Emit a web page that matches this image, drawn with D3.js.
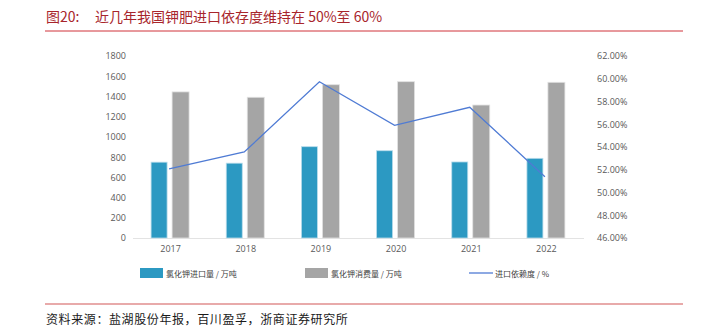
<!DOCTYPE html>
<html><head><meta charset="utf-8">
<script src="https://cdn.jsdelivr.net/npm/d3@7"></script>
<style>body{margin:0;background:#fff}svg{display:block}</style>
</head><body>
<script>
const years = ["2017","2018","2019","2020","2021","2022"];
const importVol = [750, 740, 903, 863, 752, 788];
const consumption = [1445, 1392, 1516, 1546, 1315, 1540];
const dependence = [52.07, 53.56, 59.74, 55.9, 57.49, 51.39];
const leftTicks = [0,200,400,600,800,1000,1200,1400,1600,1800];
const rightTicks = [46,48,50,52,54,56,58,60,62];

const W=708,H=332;
const svg=d3.select("body").append("svg").attr("width",W).attr("height",H);
const cjk='"Noto Sans CJK SC", sans-serif';

// title
svg.append("text").attr("x",46).attr("y",22).attr("font-family",cjk).attr("font-size",14)
  .attr("fill","#A8252B").text("图20:");
svg.append("text").attr("x",95).attr("y",22).attr("font-family",cjk).attr("font-size",14)
  .attr("fill","#A8252B").text("近几年我国钾肥进口依存度维持在 50%至 60%");
svg.append("line").attr("x1",45).attr("x2",683).attr("y1",31).attr("y2",31).attr("stroke","#D0333A").attr("stroke-width",1);

const x=d3.scaleBand().domain(years).range([133,584]);
const y=d3.scaleLinear().domain([0,1800]).range([238,56]);
const y2=d3.scaleLinear().domain([46,62]).range([238,56]);

// axes
const axL=svg.append("g").attr("transform","translate(133,0)")
  .call(d3.axisLeft(y).tickValues(leftTicks).tickSize(0).tickPadding(7).tickFormat(d3.format("d")));
const axR=svg.append("g").attr("transform","translate(584,0)")
  .call(d3.axisRight(y2).tickValues(rightTicks).tickSize(0).tickPadding(13).tickFormat(d=>d.toFixed(2)+"%"));
const axB=svg.append("g").attr("transform","translate(0,238)")
  .call(d3.axisBottom(x).tickSize(0).tickPadding(8));
[axL,axR,axB].forEach(g=>{g.select(".domain").remove();
  g.selectAll("text").attr("font-family","Open Sans, sans-serif").attr("font-size",9).attr("fill","#595959");});
svg.append("line").attr("x1",133).attr("x2",584).attr("y1",238.5).attr("y2",238.5).attr("stroke","#E3E3E3");

const bw=16, gap=5;
const blue="#2C99C2", gray="#A5A5A5", lineC="#4F7BD4";
svg.append("g").selectAll("rect").data(years).join("rect")
  .attr("x",d=>x(d)+x.bandwidth()/2-bw-gap/2-1).attr("width",bw)
  .attr("y",(d,i)=>y(importVol[i])).attr("height",(d,i)=>238-y(importVol[i]))
  .attr("fill",blue).attr("stroke","#B9DCEB").attr("stroke-width",0.8);
svg.append("g").selectAll("rect").data(years).join("rect")
  .attr("x",d=>x(d)+x.bandwidth()/2+gap/2-1).attr("width",bw+1)
  .attr("y",(d,i)=>y(consumption[i])).attr("height",(d,i)=>238-y(consumption[i]))
  .attr("fill",gray).attr("stroke","#E2E2E2").attr("stroke-width",0.8);

const line=d3.line().x((d,i)=>x(years[i])+x.bandwidth()/2-1.5).y(d=>y2(d));
svg.append("path").datum(dependence).attr("d",line).attr("fill","none").attr("stroke",lineC).attr("stroke-width",1.3);

// legend
const lg=svg.append("g").attr("font-family",cjk).attr("font-size",8).attr("fill","#404040");
lg.append("rect").attr("x",140).attr("y",268).attr("width",23).attr("height",10).attr("fill",blue);
lg.append("text").attr("x",166).attr("y",276.5).text("氯化钾进口量 / 万吨");
lg.append("rect").attr("x",305).attr("y",268).attr("width",23).attr("height",10).attr("fill",gray);
lg.append("text").attr("x",331).attr("y",276.5).text("氯化钾消费量 / 万吨");
lg.append("line").attr("x1",469).attr("x2",493).attr("y1",273).attr("y2",273).attr("stroke",lineC).attr("stroke-width",1.3);
lg.append("text").attr("x",495).attr("y",276.5).text("进口依赖度 / %");

// footer
svg.append("line").attr("x1",45).attr("x2",683).attr("y1",304).attr("y2",304).attr("stroke","#E08E8E").attr("stroke-width",1.6);
svg.append("text").attr("x",46).attr("y",324).attr("font-family",cjk).attr("font-size",12)
  .attr("letter-spacing",0.6).attr("fill","#1a1a1a").text("资料来源：盐湖股份年报，百川盈孚，浙商证券研究所");
</script>
</body></html>
